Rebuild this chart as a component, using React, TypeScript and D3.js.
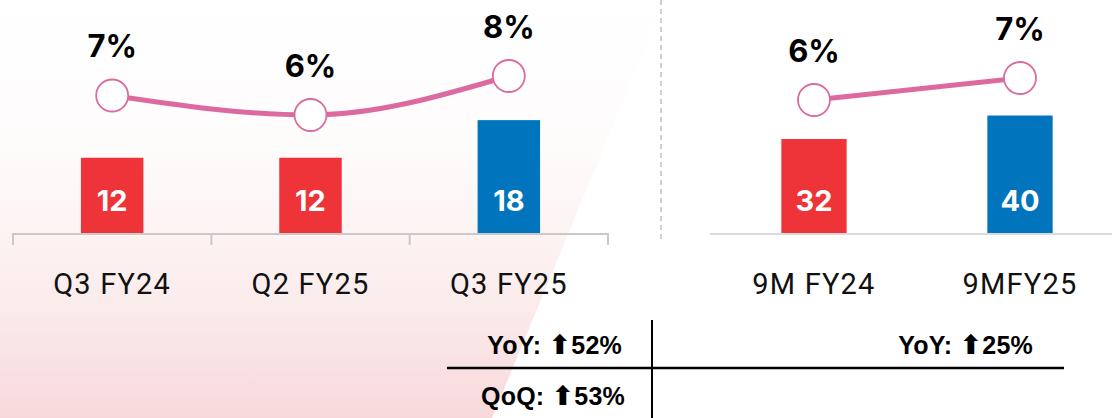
import React from "react";
import * as d3 from "d3";

const qCategories = ["Q3 FY24", "Q2 FY25", "Q3 FY25"];
const qValues = [12, 12, 18];
const qMargins = [7, 6, 8];
const qColors = ["#EE3339", "#EE3339", "#0075BE"];

const nCategories = ["9M FY24", "9MFY25"];
const nValues = [32, 40];
const nMargins = [6, 7];
const nColors = ["#EE3339", "#0075BE"];

const tableLeft = [
  { label: "YoY: ", value: "52%" },
  { label: "QoQ: ", value: "53%" },
];
const tableRight = [{ label: "YoY: ", value: "25%" }];

const W = 1112;
const H = 418;
const BASE = 233;
const LINE_COLOR = "#DC6AA0";
const pctFont = "Inter, 'Open Sans', sans-serif";
const tableFont = "'Liberation Sans', Arial, sans-serif";

export default function App() {
  const xQ = d3.scaleBand<string>().domain(qCategories).range([13, 608]).padding(0);
  const yQ = d3.scaleLinear().domain([0, 37]).range([BASE, 1]);
  const pQ = d3.scaleLinear().domain([0, 10]).range([232, 37]);

  const xN = d3.scaleBand<string>().domain(nCategories).range([711, 1123]).padding(0);
  const yN = d3.scaleLinear().domain([0, 79]).range([BASE, 1]);
  const pN = d3.scaleLinear().domain([0, 10]).range([232, 12]);

  const lineQ = d3
    .line<number>()
    .x((_, i) => (xQ(qCategories[i]) as number) + xQ.bandwidth() / 2)
    .y((d) => pQ(d))
    .curve(d3.curveMonotoneX);
  const lineN = d3
    .line<number>()
    .x((_, i) => (xN(nCategories[i]) as number) + xN.bandwidth() / 2)
    .y((d) => pN(d));

  const bwQ = xQ.bandwidth() * 0.315;
  const bwN = xN.bandwidth() * 0.317;

  const renderBars = (
    cats: string[],
    vals: number[],
    colors: string[],
    x: d3.ScaleBand<string>,
    y: d3.ScaleLinear<number, number>,
    bw: number
  ) =>
    cats.map((c, i) => {
      const cx = (x(c) as number) + x.bandwidth() / 2;
      return (
        <g key={c}>
          <rect x={cx - bw / 2} y={y(vals[i])} width={bw} height={BASE - y(vals[i])} fill={colors[i]} />
          <text
            x={cx}
            y={BASE - 22}
            textAnchor="middle"
            fill="#fff"
            fontFamily={pctFont}
            fontWeight={700}
            fontSize={29}
          >
            {vals[i]}
          </text>
        </g>
      );
    });

  const renderPoints = (
    cats: string[],
    vals: number[],
    x: d3.ScaleBand<string>,
    p: d3.ScaleLinear<number, number>
  ) =>
    cats.map((c, i) => {
      const cx = (x(c) as number) + x.bandwidth() / 2;
      const cy = p(vals[i]);
      return (
        <g key={c}>
          <circle cx={cx} cy={cy} r={16} fill="#fff" stroke={LINE_COLOR} strokeWidth={1.8} />
          <text
            x={cx}
            y={cy - 38.5}
            textAnchor="middle"
            fill="#000"
            fontFamily={pctFont}
            fontWeight={700}
            fontSize={31}
          >
            {vals[i] + "%"}
          </text>
        </g>
      );
    });

  const tickXs = [...qCategories.map((c) => xQ(c) as number), 608];

  const tableText = (key: string, x: number, y: number, r: { label: string; value: string }) => (
    <text
      key={key}
      x={x}
      y={y}
      textAnchor="end"
      fontFamily={tableFont}
      fontWeight={700}
      fontSize={25}
      letterSpacing={0.2}
      fill="#000"
    >
      {r.label}
      <tspan fontFamily="'DejaVu Sans', sans-serif" fontSize={27} fontWeight={700}>
        ⬆
      </tspan>
      {r.value}
    </text>
  );

  return (
    <svg
      width={W}
      height={H}
      style={{ position: "absolute", left: 0, top: 0, display: "block", background: "#fff" }}
    >
      <defs>
        <linearGradient id="bgGrad" x1="0" y1="0" x2="0" y2="1">
          <stop offset="0" stopColor="#ffffff" />
          <stop offset="0.36" stopColor="#fefbfb" />
          <stop offset="0.56" stopColor="#fdf3f3" />
          <stop offset="0.72" stopColor="#fbecec" />
          <stop offset="1" stopColor="#f8d8db" />
        </linearGradient>
      </defs>
      <polygon points="0,0 665,0 492,418 0,418" fill="url(#bgGrad)" />

      {/* separator */}
      <line x1={661} x2={661} y1={0} y2={240} stroke="#cfcfcf" strokeWidth={2} strokeDasharray="5,4" />

      {/* left axis */}
      <line x1={13} x2={608} y1={BASE + 1} y2={BASE + 1} stroke="#c9c9c9" strokeWidth={2} />
      {tickXs.map((t, i) => (
        <line key={i} x1={t} x2={t} y1={BASE} y2={BASE + 12} stroke="#c9c9c9" strokeWidth={2} />
      ))}
      {/* right axis */}
      <line x1={710} x2={1112} y1={BASE + 1} y2={BASE + 1} stroke="#dadada" strokeWidth={2} />

      {renderBars(qCategories, qValues, qColors, xQ, yQ, bwQ)}
      {renderBars(nCategories, nValues, nColors, xN, yN, bwN)}

      <path d={lineQ(qMargins) || ""} fill="none" stroke={LINE_COLOR} strokeWidth={5} />
      <path d={lineN(nMargins) || ""} fill="none" stroke={LINE_COLOR} strokeWidth={5} />
      {renderPoints(qCategories, qMargins, xQ, pQ)}
      {renderPoints(nCategories, nMargins, xN, pN)}

      {/* category labels */}
      {qCategories.map((c) => (
        <text
          key={c}
          x={(xQ(c) as number) + xQ.bandwidth() / 2}
          y={294}
          textAnchor="middle"
          fontFamily="Roboto, sans-serif"
          fontSize={29}
          letterSpacing={1.2}
          fill="#111"
        >
          {c}
        </text>
      ))}
      {nCategories.map((c) => (
        <text
          key={c}
          x={(xN(c) as number) + xN.bandwidth() / 2}
          y={294}
          textAnchor="middle"
          fontFamily="Roboto, sans-serif"
          fontSize={29}
          letterSpacing={1.2}
          fill="#111"
        >
          {c}
        </text>
      ))}

      {/* table */}
      <line x1={652} x2={652} y1={320} y2={418} stroke="#000" strokeWidth={2} />
      <line x1={447} x2={1064} y1={368} y2={368} stroke="#000" strokeWidth={2.5} />
      {tableText("l0", 622, 354, tableLeft[0])}
      {tableText("l1", 625, 405, tableLeft[1])}
      {tableText("r0", 1033, 354, tableRight[0])}
    </svg>
  );
}
